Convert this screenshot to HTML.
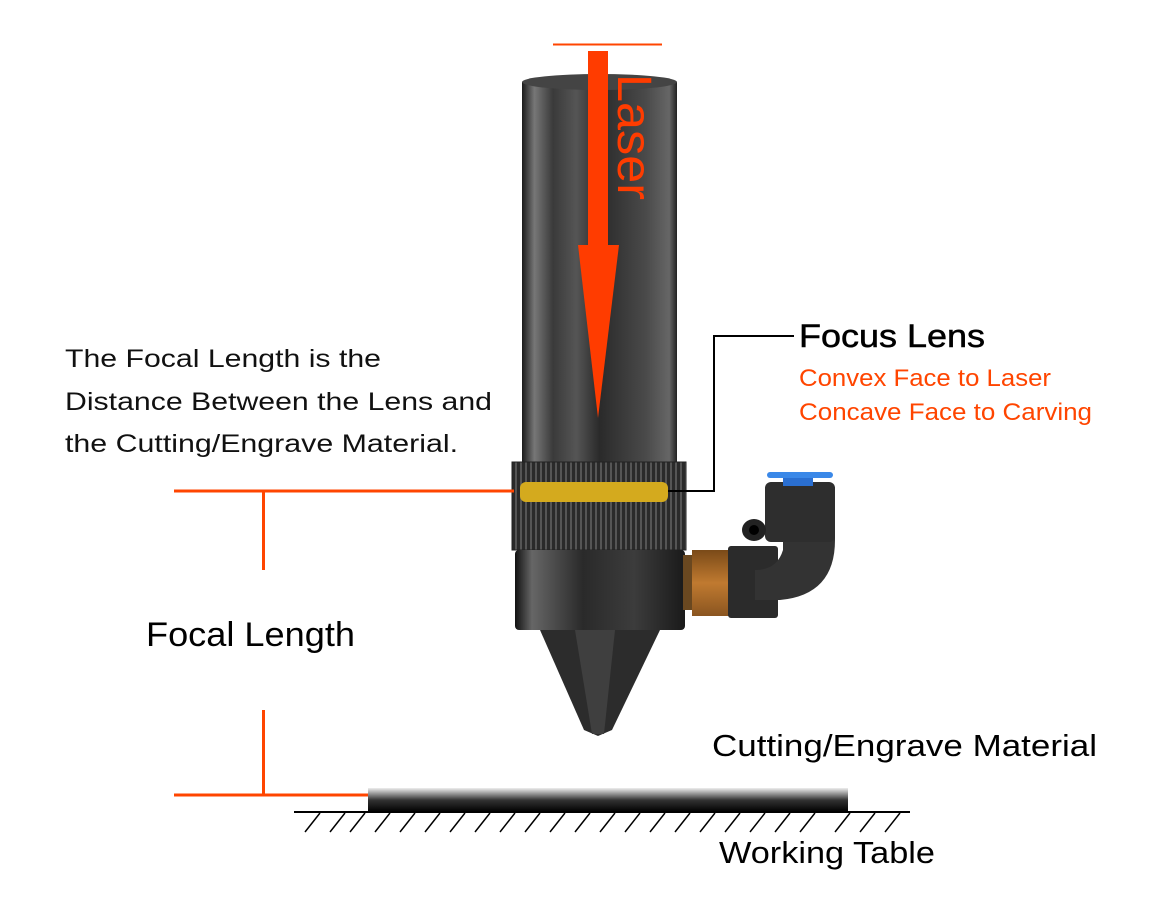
<!DOCTYPE html>
<html><head><meta charset="utf-8"><style>
html,body{margin:0;padding:0;background:#fff;width:1160px;height:910px;overflow:hidden}
svg{display:block}
text{font-family:"Liberation Sans",sans-serif}
</style></head><body>
<svg width="1160" height="910" viewBox="0 0 1160 910" xmlns="http://www.w3.org/2000/svg">
<defs>
<linearGradient id="tube" x1="0" x2="1" y1="0" y2="0">
<stop offset="0" stop-color="#1a1a1a"/><stop offset="0.08" stop-color="#777"/><stop offset="0.2" stop-color="#3a3a3a"/><stop offset="0.35" stop-color="#555"/><stop offset="0.5" stop-color="#2a2a2a"/><stop offset="0.8" stop-color="#4a4a4a"/><stop offset="0.95" stop-color="#666"/><stop offset="1" stop-color="#222"/>
</linearGradient>
<linearGradient id="body" x1="0" x2="1">
<stop offset="0" stop-color="#111"/><stop offset="0.1" stop-color="#666"/><stop offset="0.4" stop-color="#2a2a2a"/><stop offset="0.7" stop-color="#3c3c3c"/><stop offset="1" stop-color="#1a1a1a"/>
</linearGradient>
<pattern id="knurl" width="5" height="10" patternUnits="userSpaceOnUse">
<rect width="5" height="10" fill="#2a2a2a"/><rect width="2" height="10" fill="#555"/>
</pattern>
<linearGradient id="brass" x1="0" x2="0" y1="0" y2="1"><stop offset="0" stop-color="#7a4a18"/><stop offset="0.5" stop-color="#c07a30"/><stop offset="1" stop-color="#8a5520"/></linearGradient>
<linearGradient id="mat" x1="0" x2="0" y1="0" y2="1"><stop offset="0" stop-color="#eee"/><stop offset="0.5" stop-color="#333"/><stop offset="1" stop-color="#000"/></linearGradient>
</defs>

<rect x="522" y="82" width="155" height="385" fill="url(#tube)"/>
<ellipse cx="599.5" cy="82" rx="77.5" ry="8" fill="#444"/>
<rect x="512" y="462" width="174" height="88" fill="url(#knurl)"/>
<rect x="512" y="462" width="174" height="88" fill="none" stroke="#222" stroke-width="1"/>
<rect x="520" y="482" width="148" height="20" rx="6" fill="#d4aa1e"/>
<rect x="515" y="550" width="170" height="80" rx="4" fill="url(#body)"/>
<polygon points="540,630 660,630 612,730 598,736 584,730" fill="#2c2c2c"/>
<polygon points="575,630 615,630 604,734 592,734" fill="#3f3f3f"/>
<rect x="683" y="555" width="12" height="55" fill="#6a4820"/>
<rect x="692" y="550" width="38" height="66" fill="url(#brass)"/>
<rect x="728" y="546" width="50" height="72" rx="3" fill="#2b2b2b"/>
<path d="M765 495 h70 v45 q0 55 -55 60 h-25 v-30 q22 0 28 -20 v-55 z" fill="#333"/>
<rect x="765" y="482" width="70" height="60" rx="6" fill="#2e2e2e"/>
<rect x="783" y="474" width="30" height="12" fill="#2a6fd1"/>
<rect x="767" y="472" width="66" height="6" rx="3" fill="#3a88e8"/>
<ellipse cx="754" cy="530" rx="12" ry="11" fill="#222"/>
<ellipse cx="754" cy="530" rx="5" ry="5" fill="#000"/>

<line x1="553" y1="44.5" x2="662" y2="44.5" stroke="#ff4500" stroke-width="2"/>
<rect x="588" y="51" width="20" height="200" fill="#ff3c00"/>
<polygon points="578,245 619,245 598,418" fill="#ff3c00"/>
<text transform="translate(618,74) rotate(90)" font-size="48" fill="#ff3c00" textLength="126" lengthAdjust="spacingAndGlyphs">Laser</text>

<g stroke="#ff4500" stroke-width="3" fill="none">
<line x1="174" y1="491" x2="514" y2="491"/>
<line x1="263.5" y1="491" x2="263.5" y2="570"/>
<line x1="263.5" y1="710" x2="263.5" y2="796"/>
<line x1="174" y1="795" x2="370" y2="795"/>
</g>
<polyline points="668,491 714,491 714,336 794,336" fill="none" stroke="#000" stroke-width="2"/>

<rect x="368" y="788" width="480" height="24" fill="url(#mat)"/>
<line x1="294" y1="812" x2="910" y2="812" stroke="#000" stroke-width="2"/>
<g stroke="#000" stroke-width="1.5">
<line x1="320" y1="813" x2="305" y2="832"/><line x1="345" y1="813" x2="330" y2="832"/><line x1="365" y1="813" x2="350" y2="832"/><line x1="390" y1="813" x2="375" y2="832"/><line x1="415" y1="813" x2="400" y2="832"/><line x1="440" y1="813" x2="425" y2="832"/><line x1="465" y1="813" x2="450" y2="832"/><line x1="490" y1="813" x2="475" y2="832"/><line x1="515" y1="813" x2="500" y2="832"/><line x1="540" y1="813" x2="525" y2="832"/><line x1="565" y1="813" x2="550" y2="832"/><line x1="590" y1="813" x2="575" y2="832"/><line x1="615" y1="813" x2="600" y2="832"/><line x1="640" y1="813" x2="625" y2="832"/><line x1="665" y1="813" x2="650" y2="832"/><line x1="690" y1="813" x2="675" y2="832"/><line x1="715" y1="813" x2="700" y2="832"/><line x1="740" y1="813" x2="725" y2="832"/><line x1="765" y1="813" x2="750" y2="832"/><line x1="790" y1="813" x2="775" y2="832"/><line x1="815" y1="813" x2="800" y2="832"/><line x1="850" y1="813" x2="835" y2="832"/><line x1="875" y1="813" x2="860" y2="832"/><line x1="900" y1="813" x2="885" y2="832"/>
</g>

<g font-size="25" fill="#111">
<text x="65" y="367" textLength="316" lengthAdjust="spacingAndGlyphs">The Focal Length is the</text>
<text x="65" y="410" textLength="427" lengthAdjust="spacingAndGlyphs">Distance Between the Lens and</text>
<text x="65" y="452" textLength="393" lengthAdjust="spacingAndGlyphs">the Cutting/Engrave Material.</text>
</g>
<text x="146" y="646" font-size="34" fill="#000" textLength="209" lengthAdjust="spacingAndGlyphs">Focal Length</text>
<text x="799" y="347" font-size="32" fill="#000" stroke="#000" stroke-width="0.5" textLength="186" lengthAdjust="spacingAndGlyphs">Focus Lens</text>
<text x="799" y="386" font-size="24" fill="#ff4500" textLength="252" lengthAdjust="spacingAndGlyphs">Convex Face to Laser</text>
<text x="799" y="420" font-size="24" fill="#ff4500" textLength="293" lengthAdjust="spacingAndGlyphs">Concave Face to Carving</text>
<text x="712" y="756" font-size="31" fill="#000" textLength="385" lengthAdjust="spacingAndGlyphs">Cutting/Engrave Material</text>
<text x="719" y="863" font-size="31" fill="#000" textLength="216" lengthAdjust="spacingAndGlyphs">Working Table</text>
</svg>
</body></html>
